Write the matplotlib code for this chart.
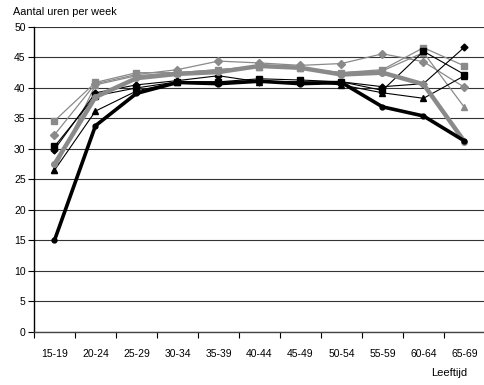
import numpy as np
import matplotlib
matplotlib.use("Agg")
import matplotlib.pyplot as plt

plt.rcParams.update({
    "font.family": ["Liberation Sans", "DejaVu Sans"],
    "font.size": 7.5,
})

categories = ["15-19", "20-24", "25-29", "30-34", "35-39", "40-44",
              "45-49", "50-54", "55-59", "60-64", "65-69"]

# thin series
gray_square = [34.6, 40.9, 42.5, 42.5, 43.0, 43.5, 43.2, 42.5, 43.0, 46.6, 43.6]
gray_diamond = [32.3, 40.7, 42.2, 43.0, 44.4, 44.1, 43.7, 44.0, 45.6, 44.3, 40.1]
gray_triangle = [26.5, 40.5, 42.0, 42.5, 43.0, 43.5, 43.3, 42.5, 42.8, 45.8, 36.8]
black_square = [30.4, 38.7, 40.0, 41.0, 41.0, 41.5, 41.3, 41.0, 39.6, 46.0, 42.2]
black_diamond = [29.9, 39.2, 40.5, 41.2, 42.0, 41.0, 41.0, 41.0, 40.2, 40.7, 46.7]
black_triangle = [26.5, 36.2, 39.5, 41.0, 41.0, 41.0, 41.0, 40.5, 39.2, 38.3, 42.0]
# thick series
gray_thick = [27.5, 38.5, 41.6, 42.3, 42.6, 43.6, 43.3, 42.2, 42.5, 40.6, 31.2]
black_thick = [15.0, 33.8, 39.1, 40.9, 40.7, 41.1, 40.7, 40.9, 36.9, 35.4, 31.3]

GRAY = "#8a8a8a"
x = np.arange(len(categories))

fig = plt.figure(figsize=(4.85, 3.85), dpi=100)
ax = fig.add_axes([0.070, 0.138, 0.93, 0.792])

for vals, m, c in [(gray_square, "s", GRAY), (gray_diamond, "D", GRAY),
                   (gray_triangle, "^", GRAY)]:
    ax.plot(x, vals, color=c, lw=0.9, marker=m, ms=4.5 if m != "D" else 3.8,
            zorder=3)
for vals, m in [(black_square, "s"), (black_diamond, "D"), (black_triangle, "^")]:
    ax.plot(x, vals, color="black", lw=0.8, marker=m,
            ms=4.5 if m != "D" else 3.5, zorder=4)
ax.plot(x, gray_thick, color=GRAY, lw=3.2, marker="o", ms=4, zorder=5)
ax.plot(x, black_thick, color="black", lw=2.6, marker="o", ms=3.5, zorder=6)

ax.set_ylim(0, 50)
ax.set_yticks(np.arange(0, 51, 5))
ax.set_xlim(-0.5, len(categories) - 0.5)
ax.set_xticks(np.arange(-0.5, len(categories), 1.0))
ax.set_xticklabels([])
ax.set_xticks(x, minor=True)
ax.set_xticklabels(categories, minor=True)
ax.tick_params(axis="x", which="minor", length=0, pad=12)
ax.tick_params(axis="x", which="major", length=4, width=0.8, direction="out")
ax.tick_params(axis="y", length=4, width=0.8, direction="out", pad=2)

ax.grid(axis="y", color="#333333", lw=0.8)
ax.set_axisbelow(True)
for s in ["top", "right"]:
    ax.spines[s].set_visible(False)
ax.spines["left"].set_linewidth(1.0)
ax.spines["bottom"].set_linewidth(1.0)
ax.spines["bottom"].set_color("#444444")

fig.text(0.027, 0.969, "Aantal uren per week", ha="left", va="center", fontsize=7.8)
fig.text(0.926, 0.031, "Leeftijd", ha="center", va="center", fontsize=8)

fig.savefig("out.png", dpi=100)
